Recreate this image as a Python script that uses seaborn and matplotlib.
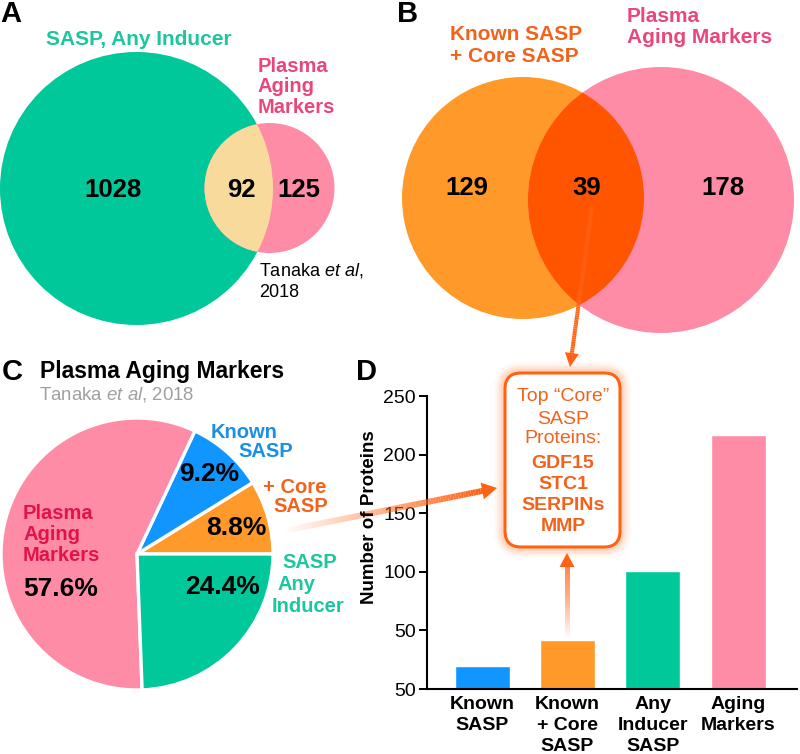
import numpy as np
import matplotlib
matplotlib.use('Agg')
import matplotlib.pyplot as plt
import seaborn as sns
import pandas as pd
from matplotlib.patches import Circle, FancyBboxPatch, Polygon
from matplotlib.collections import LineCollection
from matplotlib.colors import to_rgba

# ---------------- data ----------------
venn_a_sets = ['SASP, Any Inducer', ['Plasma', 'Aging', 'Markers']]
venn_a_counts = [1028, 92, 125]
venn_b_sets = [['Known SASP', '+ Core SASP'], ['Plasma', 'Aging Markers']]
venn_b_counts = [129, 39, 178]
pie_labels = ['+ Core SASP', 'Known SASP', 'Plasma Aging Markers', 'SASP Any Inducer']
pie_pct = [8.8, 9.2, 57.6, 24.4]
bar_categories = ['Known\nSASP', 'Known\n+ Core\nSASP', 'Any\nInducer\nSASP', 'Aging\nMarkers']
bar_values = [20, 42, 101, 217]
bar_yticks = [0, 50, 100, 150, 200, 250]
bar_yticklabels = ['50', '50', '100', '150', '200', '250']
box_header = ['Top \u201cCore\u201d', 'SASP', 'Proteins:']
core_proteins = ['GDF15', 'STC1', 'SERPINs', 'MMP']

# ---------------- colours ----------------
TEAL = '#00C89B'
TEAL_TXT = '#1CC69E'
PINK = '#FF8CA6'
PINK_TXT = '#E9467A'
TAN = '#F8DA9C'
ORANGE = '#FF9A2A'
ORANGE_TXT = '#F2621A'
RED_OR = '#FF5500'
BLUE = '#1196FF'
BLUE_TXT = '#1A8FE6'
CRIMSON = '#E2124A'
GRAY = '#A0A0A0'
ARROW = '#FF6212'

sns.set_theme(style='white')
plt.rcParams['font.family'] = ['Liberation Sans', 'DejaVu Sans']
plt.rcParams['mathtext.fontset'] = 'custom'
plt.rcParams['mathtext.rm'] = 'Liberation Sans'
plt.rcParams['mathtext.it'] = 'Liberation Sans:italic'
plt.rcParams['mathtext.bf'] = 'Liberation Sans:bold'

W, H = 800, 754
fig = plt.figure(figsize=(8, 7.54), dpi=100)

# ---------------- panel D bar chart ----------------
axb = fig.add_axes([427 / W, 1 - 689 / H, 370 / W, 293 / H])
df = pd.DataFrame({'cat': bar_categories, 'n': bar_values})
bar_colors = [BLUE, ORANGE, TEAL, PINK]
sns.barplot(data=df, x='cat', y='n', hue='cat', palette=bar_colors, legend=False,
            width=0.645, saturation=1, ax=axb)
axb.set_xlim(-0.645, 3.69)
axb.set_ylim(0, 250)
axb.set_yticks(bar_yticks)
axb.set_yticklabels(bar_yticklabels, fontsize=14, color='black')
axb.tick_params(axis='y', left=True, length=6, width=1.4, color='black', pad=2)
axb.tick_params(axis='x', bottom=False, length=0, pad=5)
for lab in axb.get_xticklabels():
    lab.set_fontweight('bold')
    lab.set_fontsize(14)
    lab.set_color('black')
    lab.set_linespacing(1.32)
    lab.set_va('top')
sns.despine(ax=axb)
for s in ['left', 'bottom']:
    axb.spines[s].set_linewidth(1.5)
    axb.spines[s].set_color('black')
axb.set_xlabel('')
axb.set_ylabel('')
axb.patch.set_alpha(0)

# ---------------- overlay axes (pixel coordinates) ----------------
ax = fig.add_axes([0, 0, 1, 1], zorder=10)
ax.patch.set_alpha(0)

# panel C pie
ax.pie(pie_pct, colors=[ORANGE, BLUE, PINK, TEAL], center=(137, 554), radius=136,
       startangle=0, counterclock=False,
       wedgeprops=dict(edgecolor='white', linewidth=2.4))
ax.set_xlim(0, W)
ax.set_ylim(H, 0)
ax.set_aspect('auto')
ax.axis('off')


def t(x, y, s, size, color='black', weight='bold', ha='center', va='baseline', **kw):
    ax.text(x, y, s, fontsize=size, color=color, fontweight=weight, ha=ha, va=va, **kw)


# ---------------- panel A ----------------
g = Circle((136.5, 188.5), 136.5, fc=TEAL, ec='none')
p = Circle((269.5, 188), 65, fc=PINK, ec='none')
lens = Circle((269.5, 188), 65, fc=TAN, ec='none')
for c in (g, p, lens):
    ax.add_patch(c)
lens.set_clip_path(g)

t(11, 22, 'A', 21)
t(139, 45, venn_a_sets[0], 15, TEAL_TXT)
for line, yb in zip(venn_a_sets[1], [72, 92, 113]):
    t(258, yb, line, 14.5, PINK_TXT, ha='left')
t(113, 197, str(venn_a_counts[0]), 18.5)
t(241, 197, str(venn_a_counts[1]), 18.5)
t(299, 197, str(venn_a_counts[2]), 18.5)
t(259, 275, r'Tanaka $\mathit{et\ al}$,', 13, weight='normal', ha='left')
t(259, 297, '2018', 13, weight='normal', ha='left')

# ---------------- panel B ----------------
ob = Circle((523, 198), 121, fc=ORANGE, ec='none')
pb = Circle((661, 200), 133, fc=PINK, ec='none')
ib = Circle((661, 200), 133, fc=RED_OR, ec='none')
for c in (ob, pb, ib):
    ax.add_patch(c)
ib.set_clip_path(ob)

t(408, 22, 'B', 21)
for line, yb in zip(venn_b_sets[0], [40, 62]):
    t(450, yb, line, 15, ORANGE_TXT, ha='left')
for line, yb in zip(venn_b_sets[1], [22, 43]):
    t(627, yb, line, 15, PINK_TXT, ha='left')
t(467, 195, str(venn_b_counts[0]), 18.5)
t(587, 195, str(venn_b_counts[1]), 18.5)
t(723, 195, str(venn_b_counts[2]), 18.5)

# ---------------- panel C texts ----------------
t(12, 380, 'C', 21)
t(40, 378, 'Plasma Aging Markers', 16.5, ha='left')
t(39, 399, r'Tanaka $\mathit{et\ al}$, 2018', 13.4, GRAY, weight='normal', ha='left')
t(244, 438, 'Known', 14.5, BLUE_TXT)
t(266, 457, 'SASP', 14.5, BLUE_TXT)
t(209, 481, '9.2%', 19)
t(326, 493, '+ Core', 14.5, ORANGE_TXT, ha='right')
t(328, 512, 'SASP', 14.5, ORANGE_TXT, ha='right')
t(236, 535, '8.8%', 19)
t(23, 519, 'Plasma', 14.5, CRIMSON, ha='left')
t(23, 540, 'Aging', 14.5, CRIMSON, ha='left')
t(23, 561, 'Markers', 14.5, CRIMSON, ha='left')
t(23, 596, '57.6%', 19, ha='left')
t(222, 594, '24.4%', 19)
t(282, 568, 'SASP', 14.5, TEAL_TXT, ha='left')
t(277, 590, 'Any', 14.5, TEAL_TXT, ha='left')
t(272, 612, 'Inducer', 14.5, TEAL_TXT, ha='left')

# ---------------- panel D texts ----------------
t(367, 380, 'D', 21)
t(369, 517, 'Number of Proteins', 13.5, rotation=90, va='center')


# ---------------- arrows ----------------
def grad_arrow(x0, y0, x1, y1, color, lw_px, head_len, head_w, a0=0.0, a1=1.0, n=80):
    v = np.array([x1 - x0, y1 - y0], float)
    L = np.hypot(*v)
    u = v / L
    base = np.array([x1, y1]) - u * head_len
    pts = np.linspace([x0, y0], base + u * 1.0, n + 1)
    segs = np.stack([pts[:-1], pts[1:]], axis=1)
    rgba = np.array(to_rgba(color))
    cols = np.tile(rgba, (n, 1))
    cols[:, 3] = np.linspace(a0, a1, n)
    lc = LineCollection(segs, colors=cols, linewidths=lw_px * 0.72, capstyle='butt')
    ax.add_collection(lc)
    nperp = np.array([-u[1], u[0]])
    head = Polygon([[x1, y1], base + nperp * head_w / 2, base - nperp * head_w / 2],
                   closed=True, fc=color, ec='none', alpha=a1)
    ax.add_patch(head)


grad_arrow(592, 207, 570, 367, ARROW, 4, 14, 14, a0=0.85, a1=1.0)
grad_arrow(283, 531, 497, 488, ARROW, 6, 15, 17, a0=0.0, a1=1.0)
grad_arrow(567, 638, 567, 553, ARROW, 5, 14, 15, a0=0.0, a1=1.0)

# ---------------- core SASP box ----------------
bx, by, bw, bh = 505, 373, 115, 174
for lw, al in [(16, 0.05), (12, 0.07), (9, 0.09), (6, 0.12)]:
    ax.add_patch(FancyBboxPatch((bx, by), bw, bh, boxstyle='round,pad=0,rounding_size=16',
                                fc='none', ec='#FF7A30', lw=lw, alpha=al))
ax.add_patch(FancyBboxPatch((bx, by), bw, bh, boxstyle='round,pad=0,rounding_size=16',
                            fc='white', ec=ARROW, lw=2.2))
for line, yb in zip(box_header, [401, 424, 443]):
    t(563, yb, line, 14, ORANGE_TXT, weight='normal')
for line, yb in zip(core_proteins, [468, 489, 510, 531]):
    t(563, yb, line, 14, ORANGE_TXT)

fig.savefig('out.png', dpi=100)
